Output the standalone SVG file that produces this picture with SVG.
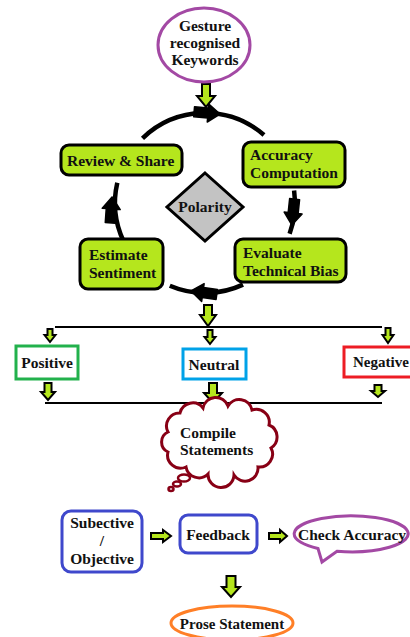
<svg xmlns="http://www.w3.org/2000/svg" width="410" height="637" viewBox="0 0 410 637">
<style>
text{font-family:"Liberation Serif","Times New Roman",serif;font-weight:bold;font-size:15.5px;fill:#111;}
.c{text-anchor:middle;}
.gbox{fill:#b5e61d;stroke:#000;stroke-width:3;}
.garr{fill:#b5e61d;stroke:#000;stroke-width:2;stroke-linejoin:miter;}
.arc{fill:none;stroke:#000;stroke-width:4.5;}
.line{stroke:#000;stroke-width:2;}
</style>
<defs>
<path id="ah" d="M1,0 L-11,-9 L-11,-5 L-25,-5 L-25,5 L-11,5 L-11,9 Z" fill="#000" stroke="#000" stroke-width="1.5" stroke-linejoin="round"/>
</defs>
<rect width="410" height="637" fill="#fff"/>

<g id="connectors">
<path class="arc" d="M142.5,138.3 A90,90 0 0 1 264,135"/>
<path class="arc" d="M294.1,190.5 A90,90 0 0 1 289.6,233.8"/>
<path class="arc" d="M243,284.6 A90,90 0 0 1 169.8,285.8"/>
<path class="arc" d="M123.4,241 A90,90 0 0 1 117.3,182.8"/>
<use href="#ah" transform="translate(219,114) rotate(5)"/>
<use href="#ah" transform="translate(292,224) rotate(96)"/>
<use href="#ah" transform="translate(192,291) rotate(188)"/>
<use href="#ah" transform="translate(112,198) rotate(-86)"/>
<line class="line" x1="55" y1="327" x2="382" y2="327"/>
<line class="line" x1="45" y1="403" x2="382" y2="403"/>
<path class="garr" d="M202,84 L210,84 L210,96 L215,96 L206,107 L197,96 L202,96 Z"/>
<path class="garr" d="M204,305 L212,305 L212,315 L216,315 L208,326 L200,315 L204,315 Z"/>
<path class="garr" d="M47.5,329 L52.5,329 L52.5,335 L55.5,335 L50,342 L44.5,335 L47.5,335 Z"/>
<path class="garr" d="M207.5,330 L212.5,330 L212.5,337 L215.5,337 L210,344 L204.5,337 L207.5,337 Z"/>
<path class="garr" d="M385.5,328 L390.5,328 L390.5,335 L393.5,335 L388,343 L382.5,335 L385.5,335 Z"/>
<path class="garr" d="M44.5,383 L51.5,383 L51.5,392 L55,392 L48,400 L41,392 L44.5,392 Z"/>
<path class="garr" d="M209,383 L217,383 L217,393 L222,393 L213,403 L204,393 L209,393 Z"/>
<path class="garr" d="M374.5,385 L381.5,385 L381.5,391 L385,391 L378,397 L371,391 L374.5,391 Z"/>
<path class="garr" d="M151,533 L163,533 L163,530 L171,536 L163,542 L163,539 L151,539 Z"/>
<path class="garr" d="M269,533 L280,533 L280,530 L287,536 L280,542 L280,539 L269,539 Z"/>
<path class="garr" d="M226.5,576 L235.5,576 L235.5,587 L240,587 L231,597 L222,587 L226.5,587 Z"/>
</g>

<g id="gesture">
<ellipse cx="204" cy="45" rx="46" ry="37" fill="#fff" stroke="#a349a4" stroke-width="3"/>
<text class="c" x="205" y="31">Gesture</text>
<text class="c" x="205" y="48">recognised</text>
<text class="c" x="205" y="65">Keywords</text>
</g>

<g id="review">
<rect class="gbox" x="61" y="145" width="121" height="30" rx="8"/>
<text x="67" y="166">Review &amp; Share</text>
</g>

<g id="accuracy">
<rect class="gbox" x="243" y="142" width="102" height="45" rx="8"/>
<text x="250" y="160">Accuracy</text>
<text x="250" y="178">Computation</text>
</g>

<g id="polarity">
<polygon points="205,173 243,207 205,241 167,207" fill="#c3c3c3" stroke="#000" stroke-width="3"/>
<text class="c" x="205" y="212">Polarity</text>
</g>

<g id="estimate">
<rect class="gbox" x="80" y="239" width="83" height="50" rx="8"/>
<text x="89" y="260">Estimate</text>
<text x="89" y="278">Sentiment</text>
</g>

<g id="evaluate">
<rect class="gbox" x="235" y="239" width="111" height="43" rx="8"/>
<text x="243" y="258">Evaluate</text>
<text x="243" y="276">Technical Bias</text>
</g>

<g id="positive">
<rect x="16" y="346" width="62" height="33" fill="#fff" stroke="#22b14c" stroke-width="3"/>
<text class="c" x="47" y="368">Positive</text>
</g>

<g id="neutral">
<rect x="183" y="349" width="63" height="30" fill="#fff" stroke="#00a2e8" stroke-width="3"/>
<text class="c" x="214" y="370">Neutral</text>
</g>

<g id="negative">
<rect x="344" y="347" width="70" height="30" fill="#fff" stroke="#ed1c24" stroke-width="3"/>
<text x="353" y="367" style="font-size:15px">Negative</text>
</g>

<g id="compile">
<path d="M168,432 A13,13 0 0 1 180,413 A13,13 0 0 1 203,408 A13,13 0 0 1 228,406 A13,13 0 0 1 252,410 A13,13 0 0 1 269,425 A13,13 0 0 1 271,448 A13,13 0 0 1 258,467 A13,13 0 0 1 234,475 A13,13 0 0 1 208,474 A13,13 0 0 1 186,467 A13,13 0 0 1 168,452 A11,11 0 0 1 168,432 Z" fill="#fff" stroke="#880015" stroke-width="3"/>
<ellipse cx="184" cy="478" rx="6" ry="3.5" fill="#fff" stroke="#880015" stroke-width="2.5"/>
<ellipse cx="177" cy="484" rx="4" ry="2.5" fill="#fff" stroke="#880015" stroke-width="2.5"/>
<ellipse cx="171" cy="489" rx="2.5" ry="2" fill="#fff" stroke="#880015" stroke-width="2.5"/>
<text x="180" y="438">Compile</text>
<text x="180" y="455">Statements</text>
</g>

<g id="subjective">
<rect x="62" y="511" width="80" height="61" rx="9" fill="#fff" stroke="#3f48cc" stroke-width="3"/>
<text class="c" x="102" y="528">Subective</text>
<text class="c" x="102" y="546">/</text>
<text class="c" x="102" y="564">Objective</text>
</g>

<g id="feedback">
<rect x="180" y="515" width="77" height="38" rx="8" fill="#fff" stroke="#3f48cc" stroke-width="3"/>
<text class="c" x="218" y="540">Feedback</text>
</g>

<g id="check">
<path d="M318,548.5 A57,18 0 1 1 337,551.3 L322,562 Z" fill="#fff" stroke="#a349a4" stroke-width="3" stroke-linejoin="miter"/>
<text x="298" y="540">Check Accuracy</text>
</g>

<g id="prose">
<ellipse cx="232" cy="623" rx="61" ry="17" fill="#fff" stroke="#ff7f27" stroke-width="3"/>
<text class="c" x="232" y="629" style="font-size:15px">Prose Statement</text>
</g>
</svg>
